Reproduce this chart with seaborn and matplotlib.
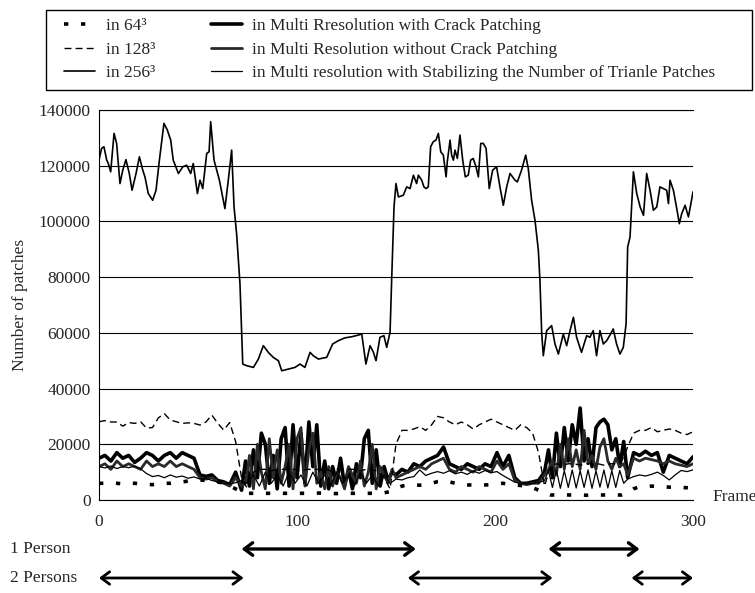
import numpy as np
import pandas as pd
import matplotlib
matplotlib.use("Agg")
import matplotlib.pyplot as plt
from matplotlib.patches import Rectangle
import seaborn as sns

sns.set_style("white")
plt.rcParams['font.family'] = ['Liberation Serif', 'DejaVu Serif']

# ---- data (patch counts in thousands) ----
frames_256 = [0, 1.3, 2.5, 3.9, 4.7, 5.9, 7.6, 8.9, 10.6, 12.0, 13.6, 15.3, 16.7, 18.7, 20.4, 22.1,
              23.2, 24.9, 27.1, 28.8, 30.5, 32.8, 34.5, 36.2, 37.5, 40.1, 42.3, 44.3, 46.3, 47.6,
              49.7, 51.0, 52.4, 54.4, 55.6, 56.4, 58.1, 60.8, 63.6, 65.3, 67.0, 68.2, 69.5, 71.2,
              72.6, 74.6, 78.0, 80.5, 83.0, 85.5, 88.0, 90.6, 92.3, 95.6, 99.0, 101.5, 104.0, 106.6,
              108.2, 110.8, 115.0, 118.0, 120.9, 124.2, 127.6, 131.0, 132.7, 134.8, 136.9, 138.6,
              139.9, 141.9, 143.9, 145.3, 147.0, 147.8, 149.0, 150.0, 151.2, 153.7, 155.4, 157.1,
              158.8, 160.4, 161.3, 163.0, 164.1, 165.2, 166.3, 167.5, 168.8, 170.2, 171.4, 172.6,
              173.9, 175.3, 175.9, 177.3, 178.1, 179.0, 179.8, 181.0, 182.3, 183.7, 185.0, 186.5,
              187.7, 189.0, 190.4, 191.6, 192.8, 194.1, 195.5, 197.1, 198.8, 200.8, 202.5, 204.2,
              205.9, 207.6, 210.1, 211.3, 213.4, 215.5, 216.8, 218.5, 220.2, 221.9, 222.7, 223.6,
              224.4, 226.1, 228.6, 230.3, 232.0, 234.5, 236.2, 237.9, 239.6, 241.2, 243.7, 246.3,
              247.9, 249.6, 251.3, 253.0, 254.7, 256.4, 258.4, 259.7, 261.4, 263.1, 264.8, 266.2,
              267.0, 268.2, 269.9, 271.6, 273.3, 275.0, 276.6, 278.3, 280.0, 281.7, 283.3, 285.0,
              286.7, 287.6, 288.4, 290.1, 291.8, 293.1, 294.3, 296.0, 297.7, 300.0]
patches_256 = [122.0, 126.2, 126.8, 122.0, 120.8, 117.8, 131.6, 128.0, 113.6, 118.4, 122.2, 117.2,
               111.2, 117.2, 123.2, 118.4, 116.0, 110.0, 107.6, 111.2, 122.0, 135.2, 132.8, 129.2,
               122.0, 117.2, 119.6, 120.2, 117.2, 120.8, 110.0, 114.8, 111.8, 124.4, 125.0, 135.8,
               122.0, 114.8, 104.6, 114.8, 125.6, 105.2, 95.6, 77.6, 48.8, 48.2, 47.6, 50.6, 55.4,
               53.0, 51.2, 50.0, 46.4, 47.0, 47.6, 48.8, 47.6, 53.0, 51.8, 50.6, 51.2, 56.0, 57.2,
               58.2, 58.6, 59.2, 59.6, 48.8, 55.4, 53.0, 50.0, 58.4, 59.0, 54.8, 60.2, 78.8, 105.2,
               113.6, 108.8, 109.4, 112.4, 111.8, 116.6, 113.6, 116.6, 114.8, 112.4, 111.8, 112.4,
               126.8, 128.6, 129.2, 131.6, 125.0, 123.8, 116.0, 121.4, 129.2, 123.8, 122.0, 125.6,
               122.6, 131.0, 122.0, 116.0, 116.6, 122.0, 122.6, 119.6, 116.0, 128.0, 128.0, 126.2,
               111.8, 118.4, 119.6, 112.4, 105.8, 112.4, 117.2, 114.8, 114.2, 118.4, 123.8, 119.0,
               107.6, 100.4, 89.6, 78.8, 59.6, 51.8, 60.8, 62.6, 56.0, 52.4, 59.6, 55.4, 60.8, 65.6,
               58.4, 53.0, 59.0, 58.4, 60.8, 51.8, 60.8, 56.0, 57.2, 59.6, 61.4, 56.0, 52.4, 54.8,
               63.2, 90.8, 94.4, 117.8, 110.0, 105.2, 102.2, 117.2, 111.2, 104.0, 105.2, 112.4,
               111.8, 111.2, 106.4, 114.8, 111.2, 104.6, 99.2, 102.8, 105.8, 101.6, 110.6]

frames_lo = list(range(0, 301, 3))
patches_64 = [6, 6, 6.2, 6, 5.8, 6, 6, 5.8, 5.6, 5.5, 5.8, 6, 6, 6.3, 6.5, 6.8, 7, 7.2, 7, 6.8, 6.5,
              6, 5, 4, 3,
              2.4, 2.4, 2.3, 2.4, 2.4, 2.5, 2.4, 2.4, 2.3, 2.4, 2.4, 2.4, 2.5, 2.4, 2.4, 2.3, 2.4,
              2.4, 2.4, 2.5, 2.4, 2.4, 2.4, 2.6, 3,
              4, 5, 5.4, 5.5, 5.3, 5.4, 6, 6.6, 6.8, 6.5, 6, 5.5, 5.4, 5.4, 5.3, 5.4, 5.5, 5.8, 6,
              5.6, 5.4, 5.2, 5, 4.5, 3.5,
              2.5, 1.8, 1.8, 1.9, 1.8, 1.8, 1.8, 1.7, 1.8, 1.8, 1.8, 1.9, 1.8, 1.8,
              2.5, 4, 4.8, 4.8, 5, 4.8, 4.8, 4.6, 4.6, 4.5, 4.4, 4.3]
patches_128 = [28.1, 28.5, 28.0, 28.0, 26.5, 27.8, 27.5, 28.1, 25.8, 26.0, 29.5, 31.0, 28.7, 28.1,
               27.5, 27.7, 27.5, 26.9, 28.0, 30.5, 27.5, 25.1, 27.8, 21, 8,
               4, 10, 11, 11, 10.5, 11, 11, 11, 11, 10.5, 11, 11, 11, 11, 10.5, 11, 11, 11, 11,
               10.5, 11, 11, 10, 8, 4,
               20, 25, 25, 25.5, 26.3, 25, 27, 30, 29.5, 28, 27, 28, 27, 25.5, 27, 28, 29, 28, 27,
               26, 25, 27, 26, 24, 17,
               5,
               12, 13, 12.5, 13, 13, 12.5, 13, 13, 13, 12.5, 13, 13, 14,
               19,
               24, 25, 25, 26, 24.5, 25, 25.5, 25, 24, 23.5, 24.5]

# multi-resolution curves: finer frame sampling while one person is tracked
frames_thick = (list(range(0, 72, 3)) + list(range(72, 150, 2)) + list(range(150, 225, 3))
                + list(range(225, 267, 2)) + list(range(267, 301, 3)))
patches_crack = [15, 16, 14, 17, 15, 16, 13.5, 15, 17, 16, 14, 16, 17, 15, 17, 16, 15, 9, 8.5, 9,
                 7, 6.5, 5.5, 10,
                 3.5, 14, 5, 18, 8, 24, 20, 6, 16, 4, 22, 26, 5, 27, 8, 24, 6, 28, 12, 27, 5, 14,
                 4, 12, 6, 15, 5, 11, 4, 13, 8, 22, 25, 6, 18, 5, 12, 7, 10,
                 9, 11, 10, 13, 12, 14, 15, 16, 19, 13, 12, 11, 13, 12, 11, 13, 12, 17, 12, 16, 8,
                 6, 6, 6.5, 7,
                 10, 18, 8, 24, 12, 26, 14, 27, 20, 33, 14, 22, 12, 26, 28, 29, 27, 18, 22, 12, 21,
                 8, 17, 16, 17.5, 16, 17, 10, 16, 15, 14, 13, 15.5]
patches_nocrack = [12, 13, 11, 14, 12, 13, 12, 11, 14, 12, 13, 12, 14, 12, 13, 12, 11, 8, 7.5, 8,
                   6.5, 6, 5, 8,
                   5, 6, 16, 4, 20, 10, 4, 22, 8, 18, 6, 12, 20, 4, 22, 26, 5, 18, 24, 6, 10, 4,
                   12, 5, 10, 8, 4, 12, 9, 6, 14, 5, 10, 20, 4, 12, 9, 6, 11,
                   8, 9, 10, 11, 12, 11, 13, 14, 15, 11, 10, 12, 11, 10, 12, 11, 10, 14, 11, 13, 7,
                   6, 5.5, 6, 6,
                   9, 11, 14, 9, 20, 11, 22, 12, 18, 11, 25, 13, 16, 11, 19, 22, 14, 11, 15, 12, 13,
                   9, 15, 14, 15, 14.5, 14, 13, 14, 13, 12.5, 12, 13]
frames_stab = list(range(0, 228, 3)) + list(range(227, 267, 2)) + list(range(267, 301, 3))
patches_stab = [12, 11.5, 12.2, 11.3, 12, 11.6, 12.1, 11.2,
                9.5, 8.4, 8.8, 8, 9, 8.2, 8.6, 7.8, 8.3,
                7.5, 7.8, 7, 6.5, 6, 5.8, 6.2, 7,
                6, 9, 5, 10, 6, 9, 5, 10, 6, 9, 5, 10, 6, 9, 5, 10, 6, 9, 5, 10, 6, 9, 5, 9, 6,
                7.5, 7.2, 8, 8.4, 10.8, 8.8, 9.6, 10.2, 9.6, 10.5, 9.4, 10, 9.2, 10.4, 9.6, 10.6,
                9.8, 10.2, 8.8, 7.6, 6.4, 6, 5.8, 6, 6.2,
                7,
                10.5, 4.5, 10.8, 4.2, 10.5, 4.5, 10.8, 4.3, 10.5, 4.5, 10.8, 4.2, 10.5, 4.6, 10.8,
                4.3, 10.5, 4.5, 10.6, 6,
                7.5, 8.4, 9, 8.6, 9.2, 10, 8.8, 7.2, 9, 10.6, 10.2, 10.8]

one_person = [(72, 160), (227, 273)]
two_persons = [(0, 73), (156, 229), (269, 300)]

# ---- figure ----
W, H = 755, 593
fig = plt.figure(figsize=(W / 100, H / 100), dpi=100)
ax = fig.add_axes([99 / W, 1 - 500 / H, (693 - 99) / W, (500 - 110) / H])

series = [
    ("in Multi Rresolution with Crack Patching", frames_thick, patches_crack, "-", 2.6, "black"),
    ("in Multi Resolution without Crack Patching", frames_thick, patches_nocrack, "-", 2.0, "#2a2a2a"),
    ("in Multi resolution with Stabilizing the Number of Trianle Patches", frames_stab, patches_stab, "-", 0.9, "black"),
    ("in 128\u00b3", frames_lo, patches_128, (0, (5, 3)), 1.0, "black"),
    ("in 64\u00b3", frames_lo, patches_64, (0, (1.2, 3.5)), 2.6, "black"),
    ("in 256\u00b3", frames_256, patches_256, "-", 1.2, "black"),
]
handles = {}
for label, fr, vals, ls, lw, col in series:
    df = pd.DataFrame({"frame": fr, "patches": np.array(vals) * 1000})
    sns.lineplot(data=df, x="frame", y="patches", ax=ax, color=col, lw=lw, linestyle=ls,
                 estimator=None, sort=False)
    handles[label] = ax.lines[-1]

ax.set_xlim(0, 300)
ax.set_ylim(0, 140000)
ax.set_yticks(range(0, 140001, 20000))
ax.set_xticks([0, 100, 200, 300])
ax.yaxis.grid(True, color="black", lw=0.8)
ax.tick_params(axis="both", length=0, labelsize=12.5, pad=6)
ax.tick_params(axis="x", pad=10)
ax.spines["right"].set_visible(False)
for s in ["left", "bottom", "top"]:
    ax.spines[s].set_color("black")
    ax.spines[s].set_linewidth(0.8)
ax.set_xlabel("")
ax.set_ylabel("Number of patches", fontsize=12.5, labelpad=8)
fig.text(712 / W, 1 - 497 / H, "Frame", fontsize=12.5, va="center", ha="left")

# person arrows
for spans, ypix, lw in [(one_person, H - 549, 2.4), (two_persons, H - 578, 2.0)]:
    for x0, x1 in spans:
        ax.annotate("", xy=(x1, ypix), xytext=(x0, ypix),
                    xycoords=("data", "figure pixels"), textcoords=("data", "figure pixels"),
                    annotation_clip=False,
                    arrowprops=dict(arrowstyle="<->,head_length=0.6,head_width=0.45",
                                    lw=lw, color="black", shrinkA=0, shrinkB=0))
fig.text(10 / W, 1 - 549 / H, "1 Person", fontsize=12.5, va="center")
fig.text(10 / W, 1 - 578 / H, "2 Persons", fontsize=12.5, va="center")

# legend
order = ["in 64\u00b3", "in 128\u00b3", "in 256\u00b3",
         "in Multi Rresolution with Crack Patching",
         "in Multi Resolution without Crack Patching",
         "in Multi resolution with Stabilizing the Number of Trianle Patches"]
leg = fig.legend([handles[k] for k in order], order, ncol=2, loc="upper left",
                 bbox_to_anchor=(52 / W, 1 - 6 / H), frameon=False, fontsize=12.5,
                 handlelength=1.8, handletextpad=0.6, columnspacing=3.2, labelspacing=0.42,
                 borderpad=0.2)
fig.add_artist(Rectangle((46 / W, 1 - 90 / H), (752 - 46) / W, 80 / H, transform=fig.transFigure,
                         fill=False, edgecolor="black", lw=1.0))

fig.savefig("out.png", dpi=100)
